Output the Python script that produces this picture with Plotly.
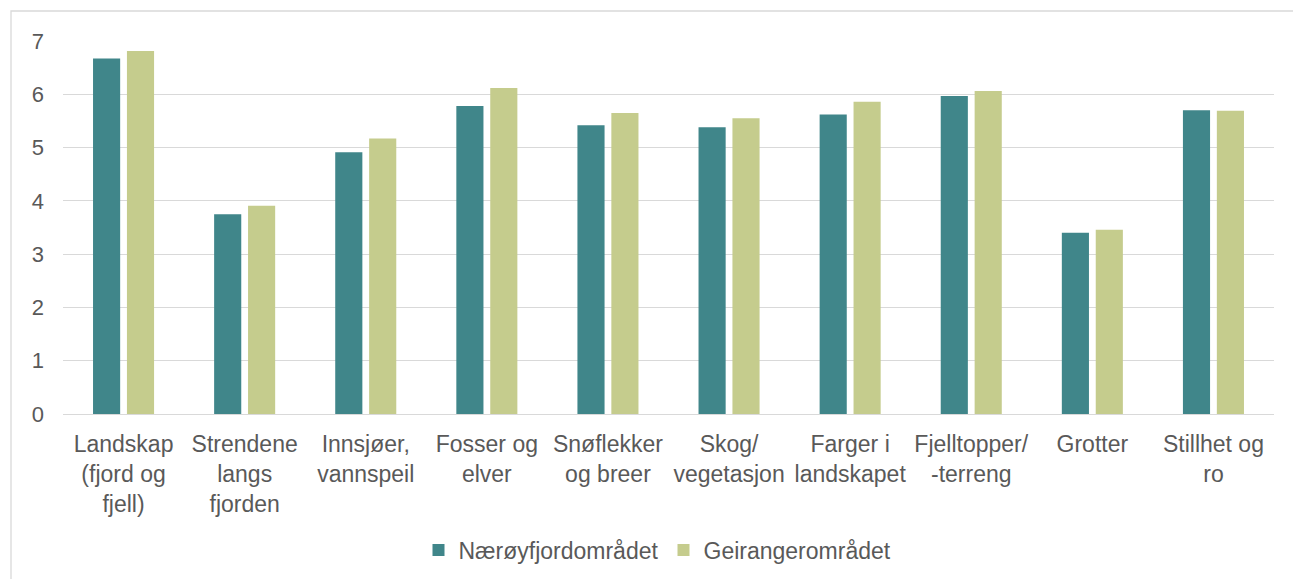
import plotly.graph_objects as go

categories = [
    "Landskap<br>(fjord og<br>fjell)",
    "Strendene<br>langs<br>fjorden",
    "Innsjøer,<br>vannspeil",
    "Fosser og<br>elver",
    "Snøflekker<br>og breer",
    "Skog/<br>vegetasjon",
    "Farger i<br>landskapet",
    "Fjelltopper/<br>-terreng",
    "Grotter",
    "Stillhet og<br>ro",
]
naeroy = [6.67, 3.75, 4.91, 5.78, 5.42, 5.38, 5.62, 5.97, 3.40, 5.70]
geiranger = [6.81, 3.91, 5.17, 6.12, 5.65, 5.55, 5.86, 6.06, 3.46, 5.69]
series_names = ["Nærøyfjordområdet", "Geirangerområdet"]
y_ticks = [0, 1, 2, 3, 4, 5, 6, 7]

TEXT = "#595959"
GRID = "#d9d9d9"
FONT = "Liberation Sans, Arial, sans-serif"

fig = go.Figure()
fig.add_trace(go.Bar(x=categories, y=naeroy, name=series_names[0],
                     marker=dict(color="#40868a", line=dict(width=0))))
fig.add_trace(go.Bar(x=categories, y=geiranger, name=series_names[1],
                     marker=dict(color="#c5cc8d", line=dict(width=0))))

W, H = 1293, 579
L, R, T, B = 63, 19, 41, 165
pw = W - L - R
ph = H - T - B

fig.update_layout(
    width=W, height=H, autosize=False,
    margin=dict(l=L, r=R, t=T, b=B, pad=0, autoexpand=False),
    paper_bgcolor="white", plot_bgcolor="white",
    font=dict(family=FONT, size=22, color=TEXT),
    barmode="group", bargap=0.44, bargroupgap=0.2,
    showlegend=True,
    legend=dict(orientation="h", x=0.5 - 11 / pw, xanchor="center",
                yref="container", y=(H - 550) / H, yanchor="middle",
                font=dict(family=FONT, size=23, color=TEXT),
                itemwidth=30, traceorder="normal"),
    xaxis=dict(type="category", showgrid=False, showline=False, zeroline=False,
               ticks="", tickfont=dict(family=FONT, size=23, color=TEXT),
               ticklabelstandoff=14, tickangle=0, automargin=False),
    yaxis=dict(range=[0, 7], tickvals=y_ticks, showgrid=True, gridcolor=GRID,
               gridwidth=1.3, zeroline=True, zerolinecolor=GRID, zerolinewidth=1.3,
               showline=False, ticks="", ticklabelstandoff=18, automargin=False,
               tickfont=dict(family=FONT, size=22, color=TEXT)),
)

# chart area border (only top and left visible in the crop)
x0 = (11 - L) / pw
y1 = 1 + (T - 11) / ph
fig.add_shape(type="rect", xref="paper", yref="paper",
              x0=x0, x1=1 + (R + 20) / pw, y0=-(B + 20) / ph, y1=y1,
              line=dict(color=GRID, width=1.3), fillcolor="rgba(0,0,0,0)",
              layer="below")

fig.write_html("out.html", config={"displayModeBar": False},
               post_script="document.body.style.margin='0';document.body.style.padding='0';")
